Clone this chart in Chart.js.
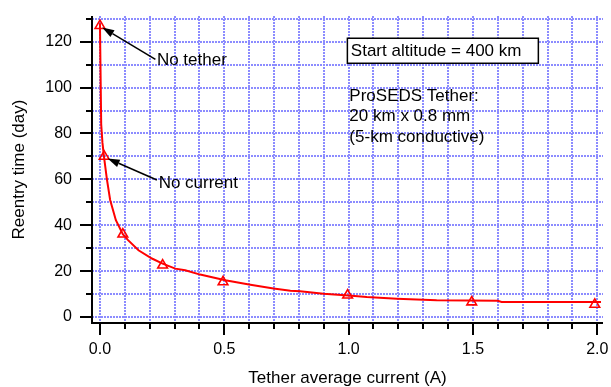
<!DOCTYPE html>
<html>
<head>
<meta charset="utf-8">
<script src="https://cdn.jsdelivr.net/npm/chart.js@4"></script>
<style>
html, body { margin: 0; padding: 0; background: #fff; }
</style>
</head>
<body>
<canvas id="grafico" width="611" height="387"></canvas>
<script>
// Marcadores (triángulos)
const corrienteMarcas = [0, 0.017, 0.092, 0.252, 0.495, 0.996, 1.495, 1.99];
const diasMarcas = [127, 70, 36.1, 22.6, 15.3, 9.5, 6.5, 5.5];

// Curva continua roja
const corrienteCurva = [0, 0.002, 0.005, 0.01, 0.016, 0.028, 0.041, 0.064, 0.092, 0.113, 0.155, 0.209, 0.252, 0.303, 0.343, 0.403, 0.504, 0.605, 0.698, 0.766, 0.805, 0.899, 1.0, 1.073, 1.194, 1.354, 1.6, 1.615, 2.015];
const diasCurva = [128, 110, 84, 76, 70, 60, 51, 42.2, 36.1, 33.5, 29.1, 25.5, 23.3, 21.1, 20.4, 18.5, 16.0, 14.1, 12.4, 11.5, 11.2, 10.2, 9.4, 8.7, 8.0, 7.3, 7.1, 6.6, 6.5];

// Etiquetas de los ejes
const etiquetasX = ['0.0', '0.5', '1.0', '1.5', '2.0'];
const etiquetasY = ['0', '20', '40', '60', '80', '100', '120'];

// Notas con flecha (en unidades de datos)
const notas = [
    { texto: 'No tether', x: 0.229, y: 112, desde: [0.223, 112.3], hasta: [0.009, 126.2] },
    { texto: 'No current', x: 0.236, y: 58.2, desde: [0.229, 59.7], hasta: [0.031, 69.1] }
];
const textoCaja = 'Start altitude = 400 km';
const lineasCable = ['ProSEDS Tether:', '20 km x 0.8 mm', '(5-km conductive)'];

const fuente = '"Liberation Sans", Arial, sans-serif';
const colorRejilla = 'rgb(140,140,255)';

function aPuntos(xs, ys) {
    return xs.map((v, i) => ({ x: v, y: ys[i] }));
}

function flecha(ctx, x1, y1, x2, y2) {
    const ang = Math.atan2(y2 - y1, x2 - x1);
    const L = 12, W = 4;
    const bx = x2 - L * Math.cos(ang), by = y2 - L * Math.sin(ang);
    ctx.beginPath();
    ctx.moveTo(x1, y1);
    ctx.lineTo(bx, by);
    ctx.stroke();
    ctx.beginPath();
    ctx.moveTo(x2, y2);
    ctx.lineTo(bx + W * Math.sin(ang), by - W * Math.cos(ang));
    ctx.lineTo(bx - W * Math.sin(ang), by + W * Math.cos(ang));
    ctx.closePath();
    ctx.fill();
}

// Ejes, marcas y anotaciones
const ejesYNotas = {
    id: 'ejesYNotas',
    afterDraw(chart) {
        const { ctx, chartArea: ca, scales: { x, y } } = chart;
        ctx.save();
        ctx.strokeStyle = '#000';
        ctx.fillStyle = '#000';
        ctx.lineWidth = 2;

        ctx.beginPath();
        ctx.moveTo(ca.left, ca.top);
        ctx.lineTo(ca.left, ca.bottom);
        ctx.lineTo(ca.right, ca.bottom);
        y.ticks.forEach(t => {
            const py = Math.round(y.getPixelForValue(t.value));
            const mayor = etiquetasY.includes(String(Math.round(t.value)));
            ctx.moveTo(ca.left - (mayor ? 12 : 6), py);
            ctx.lineTo(ca.left, py);
        });
        x.ticks.forEach(t => {
            const px = Math.round(x.getPixelForValue(t.value));
            const mayor = Math.round(t.value * 10) % 5 === 0;
            ctx.moveTo(px, ca.bottom);
            ctx.lineTo(px, ca.bottom + (mayor ? 12 : 6));
        });
        ctx.stroke();

        // caja de altitud
        ctx.lineWidth = 1.5;
        ctx.font = '17px ' + fuente;
        ctx.textBaseline = 'middle';
        const bx1 = x.getPixelForValue(0.995), bx2 = x.getPixelForValue(1.763);
        const by1 = y.getPixelForValue(121.5), by2 = y.getPixelForValue(110.6);
        ctx.fillStyle = '#fff';
        ctx.fillRect(bx1, by1, bx2 - bx1, by2 - by1);
        ctx.strokeRect(bx1, by1, bx2 - bx1, by2 - by1);
        ctx.fillStyle = '#000';
        ctx.fillText(textoCaja, x.getPixelForValue(1.009), y.getPixelForValue(115.8));

        const dy = [96.3, 87.3, 78.3];
        lineasCable.forEach((l, i) => {
            ctx.fillText(l, x.getPixelForValue(1.003), y.getPixelForValue(dy[i]));
        });

        notas.forEach(n => {
            ctx.fillText(n.texto, x.getPixelForValue(n.x), y.getPixelForValue(n.y));
            flecha(ctx,
                x.getPixelForValue(n.desde[0]), y.getPixelForValue(n.desde[1]),
                x.getPixelForValue(n.hasta[0]), y.getPixelForValue(n.hasta[1]));
        });
        ctx.restore();
    }
};

const ctx = document.getElementById('grafico').getContext('2d');
new Chart(ctx, {
    type: 'scatter',
    data: {
        datasets: [{
            type: 'line',
            data: aPuntos(corrienteCurva, diasCurva),
            borderColor: 'rgb(255,0,0)',
            borderWidth: 2,
            pointRadius: 0,
            tension: 0,
            fill: false
        }, {
            data: aPuntos(corrienteMarcas, diasMarcas),
            pointStyle: 'triangle',
            pointRadius: 5.6,
            borderWidth: 1.6,
            borderColor: 'rgb(255,0,0)',
            backgroundColor: 'rgba(255,255,255,0)',
            showLine: false
        }]
    },
    options: {
        responsive: false,
        devicePixelRatio: 1,
        animation: false,
        layout: { padding: { left: 0, right: 8, top: 16, bottom: 0 } },
        plugins: { legend: { display: false }, tooltip: { enabled: false } },
        scales: {
            x: {
                type: 'linear',
                min: -0.032,
                max: 2.023,
                ticks: {
                    stepSize: 0.1,
                    includeBounds: false,
                    autoSkip: false,
                    maxRotation: 0,
                    padding: 17,
                    color: '#000',
                    font: { family: fuente, size: 16 },
                    callback: v => {
                        const k = Math.round(v * 10);
                        return k % 5 === 0 ? etiquetasX[k / 5] : '';
                    }
                },
                grid: { color: colorRejilla, lineWidth: 2, drawTicks: false },
                border: { display: false, dash: [2, 1] },
                title: {
                    display: true,
                    text: 'Tether average current (A)',
                    color: '#000',
                    font: { family: fuente, size: 17, lineHeight: 1 },
                    padding: { top: 0, bottom: 0 }
                },
                afterFit: s => { s.height = 64; s.paddingLeft = 0; s.paddingRight = 0; }
            },
            y: {
                type: 'linear',
                min: -2.6,
                max: 131.2,
                ticks: {
                    stepSize: 10,
                    includeBounds: false,
                    padding: 20,
                    color: '#000',
                    font: { family: fuente, size: 16 },
                    callback: v => etiquetasY.includes(String(v)) ? String(v) : ''
                },
                grid: { color: colorRejilla, lineWidth: 2, drawTicks: false },
                border: { display: false, dash: [2, 1] },
                title: {
                    display: true,
                    text: 'Reentry time (day)',
                    color: '#000',
                    font: { family: fuente, size: 17, lineHeight: 1.2 },
                    padding: { top: 9, bottom: 0 }
                },
                afterFit: s => { s.width = 92; s.paddingTop = 0; s.paddingBottom = 0; }
            }
        }
    },
    plugins: [ejesYNotas]
});
</script>
</body>
</html>
